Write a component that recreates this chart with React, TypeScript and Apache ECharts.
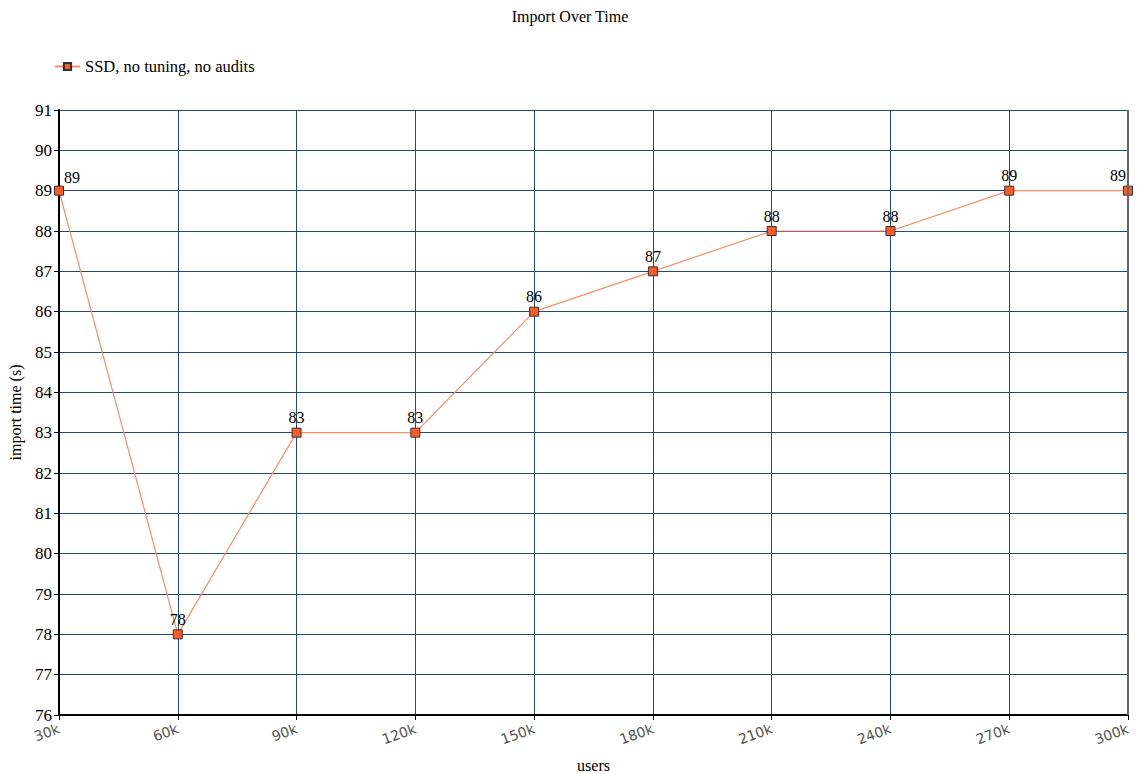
import React, { useEffect, useRef } from "react";
import * as echarts from "echarts";

const categories = ["30k", "60k", "90k", "120k", "150k", "180k", "210k", "240k", "270k", "300k"];
const importTimes = [89, 78, 83, 83, 86, 87, 88, 88, 89, 89];
const seriesName = "SSD, no tuning, no audits";

export default function App() {
  const ref = useRef<HTMLDivElement>(null);
  useEffect(() => {
    document.body.style.margin = "0";
    document.body.style.overflow = "hidden";
    const chart = echarts.init(ref.current!, null, { renderer: "svg" });
    const last = importTimes.length - 1;
    const data = importTimes.map((v, i) => {
      if (i === 0) return { value: v, label: { position: "top", offset: [13, 2] } };
      if (i === last) return { value: v, label: { position: "top", offset: [-10, 0] } };
      return v;
    });
    chart.setOption({
      animation: false,
      backgroundColor: "#fff",
      textStyle: { fontFamily: "Liberation Serif" },
      title: {
        text: "Import Over Time",
        left: "center",
        top: 3,
        textStyle: { fontFamily: "Liberation Serif", fontSize: 16, fontWeight: "normal", color: "#000" },
      },
      legend: {
        left: 49,
        top: 53,
        itemWidth: 25,
        itemHeight: 9,
        itemGap: 8,
        textStyle: { fontFamily: "Liberation Serif", fontSize: 16.5, color: "#000" },
        data: [{ name: seriesName }],
      },
      grid: { left: 59, right: 12, top: 110, bottom: 59, containLabel: false, outerBoundsMode: "none" },
      xAxis: {
        type: "category",
        data: categories,
        boundaryGap: false,
        name: "users",
        nameLocation: "middle",
        nameGap: 42,
        nameTextStyle: { fontFamily: "Liberation Serif", fontSize: 16, color: "#000" },
        axisLine: { lineStyle: { color: "#000", width: 2 } },
        axisTick: { show: true, length: 5, lineStyle: { color: "#000" } },
        axisLabel: {
          rotate: 20,
          color: "#555",
          fontFamily: "DejaVu Sans",
          fontSize: 14,
          margin: 13,
          interval: 0,
        },
        splitLine: { show: true, lineStyle: { color: "#1f4a7a", width: 1 } },
      },
      yAxis: {
        type: "value",
        min: 76,
        max: 91,
        interval: 1,
        name: "import time (s)",
        nameLocation: "middle",
        nameGap: 36,
        nameTextStyle: { fontFamily: "Liberation Serif", fontSize: 16, color: "#000" },
        axisLine: { show: true, lineStyle: { color: "#000", width: 2 } },
        axisTick: { show: true, length: 5, lineStyle: { color: "#000" } },
        axisLabel: { color: "#000", fontFamily: "Liberation Serif", fontSize: 17, margin: 7 },
        splitLine: { show: true, lineStyle: { color: "#1f4a7a", width: 1 } },
      },
      graphic: [
        {
          type: "line",
          shape: { x1: 1128, y1: 110, x2: 1128, y2: 715 },
          style: { stroke: "#666", lineWidth: 2 },
          z: 10,
        },
      ],
      series: [
        {
          name: seriesName,
          type: "line",
          data,
          symbol: "rect",
          symbolSize: 9,
          lineStyle: { color: "#ff8c66", width: 1.2 },
          itemStyle: { color: "#ff5a26", borderColor: "#333", borderWidth: 1 },
          label: {
            show: true,
            position: "top",
            distance: 2,
            color: "#000",
            fontFamily: "Liberation Serif",
            fontSize: 16,
          },
          z: 5,
        },
      ],
    });
    return () => chart.dispose();
  }, []);
  return <div ref={ref} style={{ width: 1140, height: 774 }} />;
}
